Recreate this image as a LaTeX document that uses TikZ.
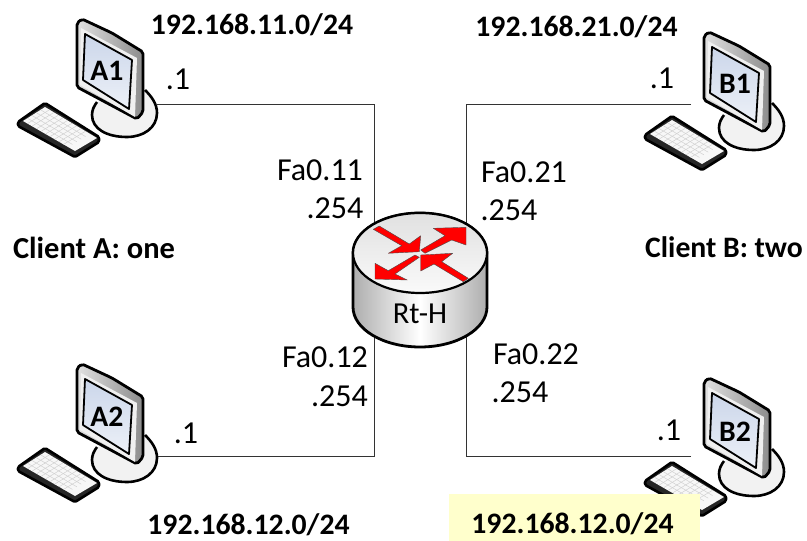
\documentclass[tikz,border=0pt]{standalone}
\usepackage{fontspec}
\setmainfont{Carlito}
\usetikzlibrary{calc}

\definecolor{screenblue}{HTML}{CBD6EA}
\definecolor{notebox}{HTML}{FFFFCC}

\tikzset{
    netlabel/.style={font=\fontsize{29.7}{34}\selectfont\bfseries,inner sep=0pt},
    portlabel/.style={font=\fontsize{32}{36}\selectfont,inner sep=0pt},
    netlink/.style={draw=black!80,line width=1pt},
    redarrow/.style={fill=red,draw=black!70,line width=0.4pt,line join=round},
    pcset/.pic={
        % stand
        \draw [line width=2.6pt,fill=black!5]
            (145,90) .. controls (152,97) and (157,104) .. (157,113)
            .. controls (157,128) and (143,137) .. (127,137)
            .. controls (107,137) and (92,129) .. (92,115)
            .. controls (92,110) and (94,106) .. (97,102);
        % keyboard
        \draw [line width=2.6pt,line join=round,rounded corners=1.5pt,fill=black!85]
            (18,122) -- (45,103) -- (99,137) -- (99,142) -- (75,157) -- (18,126) -- cycle;
        \fill [black!3] (23,121) -- (45,107) -- (97,138) -- (75,151) -- cycle;
        \foreach \i in {1,...,9}
            \draw [black!18,line width=0.5pt] ($(45,107)!\i/10!(90,134)$) -- ($(23,121)!\i/10!(68,147)$);
        \foreach \j in {1,...,4}
            \draw [black!18,line width=0.5pt] ($(45,107)!\j/5!(23,121)$) -- ($(90,134)!\j/5!(68,147)$);
        % monitor
        \draw [line width=2.8pt,line join=round,rounded corners=2pt,left color=black!12,right color=black!45]
            (77,23) -- (82,19) -- (112,33) -- (143,52) -- (143,112) -- (137,119) -- (77,87) -- cycle;
        \fill [black!6] (81,28) -- (137,58) -- (135,117) -- (80,85) -- cycle;
        \draw [line width=1.8pt,line join=round,top color=screenblue,bottom color=screenblue!35]
            (85,34) -- (132,60) -- (129,109) -- (83,80) -- cycle;
    }
}

\begin{document}
\begin{tikzpicture}[x=1pt,y=-1pt]
\useasboundingbox (0,0) rectangle (807,541);

\coordinate (A1port) at (157,104);
\coordinate (A2port) at (157,456);
\coordinate (B1port) at (691,104);
\coordinate (B2port) at (691,456);
\coordinate (Rt11) at (374,235);
\coordinate (Rt12) at (374,330);
\coordinate (Rt21) at (466,235);
\coordinate (Rt22) at (466,330);

\path [netlink] (A1port) -| (Rt11);
\path [netlink] (A2port) -| (Rt12);
\path [netlink] (B1port) -| (Rt21);
\path [netlink] (B2port) -| (Rt22);

% computers
\pic at (0,0) {pcset};
\pic at (0,345) {pcset};
\pic at (627,13) {pcset};
\pic at (627,359) {pcset};

\begin{scope}[every node/.style={netlabel}]
    \node (A1) at (107,71) {A1};
    \node (A2) at (107,417) {A2};
    \node (B1) at (735,84) {B1};
    \node (B2) at (735,432) {B2};
\end{scope}

% router
\draw [line width=2.8pt,left color=black!32,right color=black!32,middle color=white]
    (353,253) -- (353,307) arc (180:0:67 and 40) -- (487,253) arc (0:-180:67 and 40) -- cycle;
\draw [line width=2.2pt,top color=black!12,bottom color=black!2]
    (420,253) ellipse (67 and 40);
\begin{scope}[shift={(420,253)}]
    \path [redarrow] (-46.7,-23.7) -- (-40.7,-27) -- (-10.7,-9) -- (.7,-17.3) -- (-.7,-1.3) -- (-31.7,.3) -- (-18.3,-7.3) -- cycle;
    \path [redarrow] (.7,-3) -- (25,-17.3) -- (13.3,-24.7) -- (46,-25.7) -- (46,-8) -- (31.7,-13) -- (5,.3) -- cycle;
    \path [redarrow] (-5,2) -- (-31.7,17.7) -- (-45,10.3) -- (-45,26) -- (-12.7,27) -- (-25,21) -- (-.7,4.3) -- cycle;
    \path [redarrow] (48.3,25.3) -- (21.7,8.7) -- (32.7,.3) -- (.7,2) -- (.7,18) -- (14,11) -- (43.3,28.7) -- cycle;
\end{scope}
\node (RtH) at (420,314) [portlabel,font=\fontsize{30.5}{34}\selectfont] {Rt-H};

% 2nd network labels
\fill [fill=notebox] (449,494) rectangle (700,541);
\begin{scope}[every node/.style={netlabel}]
    \node (net11) at (252,25) {192.168.11.0/24};
    \node (net21) at (576.5,27) {192.168.21.0/24};
    \node (net12) at (248.5,525) {192.168.12.0/24};
    \node (net22) at (572.5,524) {192.168.12.0/24};
    \node (clientA) at (94,248) [font=\fontsize{30.5}{34}\selectfont\bfseries] {Client A: one};
    \node (clientB) at (724,247) {Client B: two};
\end{scope}

% 3rd port labels
\begin{scope}[every node/.style={portlabel}]
    \node (ipA1) at (178,79) {.1};
    \node (ipA2) at (186,433) {.1};
    \node (ipB1) at (662,78) {.1};
    \node (ipB2) at (669,430) {.1};
    \node (fa11) at (320,170) {Fa0.11};
    \node (ip11) at (335,208) {.254};
    \node (fa21) at (524,172.5) {Fa0.21};
    \node (ip21) at (509,210) {.254};
    \node (fa12) at (325,357) {Fa0.12};
    \node (ip12) at (339.5,396) {.254};
    \node (fa22) at (536,354) {Fa0.22};
    \node (ip22) at (520,392) {.254};
\end{scope}
\end{tikzpicture}
\end{document}
